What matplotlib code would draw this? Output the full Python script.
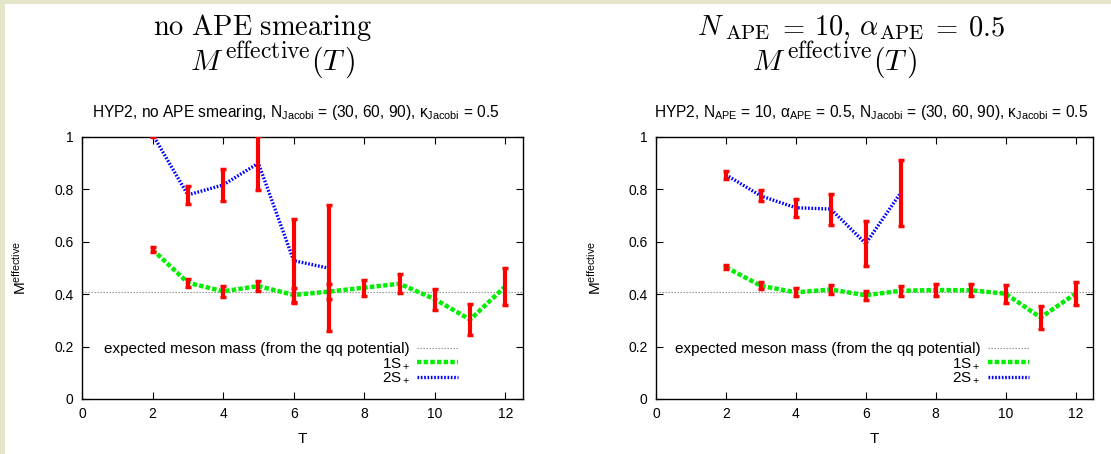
import numpy as np
import matplotlib
matplotlib.use("Agg")
import matplotlib.pyplot as plt
from matplotlib.patches import Rectangle

plt.rcParams['font.family'] = ['Liberation Sans', 'DejaVu Sans']
plt.rcParams['mathtext.fontset'] = 'custom'
plt.rcParams['mathtext.rm'] = 'Liberation Sans'
plt.rcParams['mathtext.it'] = 'Liberation Sans:italic'
plt.rcParams['mathtext.bf'] = 'Liberation Sans:bold'

# time slices
T = [2, 3, 4, 5, 6, 7, 8, 9, 10, 11, 12]
T2 = [2, 3, 4, 5, 6, 7]
m_expected = 0.41

# no APE smearing
s1_noape = [0.570, 0.444, 0.411, 0.431, 0.397, 0.410, 0.425, 0.440, 0.381, 0.303, 0.430]
e1_noape = [0.010, 0.015, 0.020, 0.018, 0.028, 0.030, 0.030, 0.036, 0.040, 0.058, 0.070]
s2_noape = [1.010, 0.779, 0.817, 0.900, 0.528, 0.499]
e2_noape = [0.010, 0.033, 0.062, 0.103, 0.160, 0.240]

# N_APE = 10, alpha_APE = 0.5
s1_ape = [0.503, 0.432, 0.407, 0.418, 0.396, 0.413, 0.416, 0.415, 0.402, 0.311, 0.402]
e1_ape = [0.008, 0.013, 0.015, 0.017, 0.018, 0.020, 0.023, 0.023, 0.035, 0.045, 0.045]
s2_ape = [0.856, 0.775, 0.730, 0.725, 0.593, 0.787]
e2_ape = [0.015, 0.021, 0.035, 0.059, 0.086, 0.126]

W, H = 1111, 454
fig = plt.figure(figsize=(W / 100, H / 100), dpi=100)
fig.patch.set_facecolor('#e5e5c9')
fig.patches.append(Rectangle((5 / W, 0), 1, 1 - 4 / H, transform=fig.transFigure,
                             facecolor='white', edgecolor='none', zorder=-10))
renderer = fig.canvas.get_renderer()


def tex_line(pieces, xc, ybase):
    # pieces: (text, fontsize, raise_px, gap_after_px), laid out left to right, centred at xc
    texts = []
    for s, fs, dy, gap in pieces:
        t = fig.text(0, 0, s, fontsize=fs, math_fontfamily='cm', va='baseline', ha='left')
        texts.append((t, dy, gap))
    widths = [t.get_window_extent(renderer).width + gap for t, _, gap in texts]
    x = xc - sum(widths) / 2
    for (t, dy, gap), w in zip(texts, widths):
        t.set_position((x / W, (H - ybase + dy) / H))
        x += w


FS = 20.5
SUB = 15.0
SUP = 17.0
sup_eff = [(r'$M$', FS + 1, 0, 1), (r'$\mathrm{effective}$', SUP, 12, 1),
           (r'$(T\,)$', FS + 1, 0, 0)]

panels = [
    dict(x0=82, x1=523, s1=s1_noape, e1=e1_noape, s2=s2_noape, e2=e2_noape,
         t1=[(r'$\mathrm{no\ APE\ smearing}$', FS, 0, 0)], t1x=263, t2x=273,
         sub=r'HYP2, no APE smearing, N$_{\mathrm{Jacobi}}$ = (30, 60, 90), κ$_{\mathrm{Jacobi}}$ = 0.5',
         subx=296, ylx=20),
    dict(x0=656, x1=1093, s1=s1_ape, e1=e1_ape, s2=s2_ape, e2=e2_ape,
         t1=[(r'$N$', FS, 0, 1), (r'$\mathrm{APE}$', SUB, -4, 7), (r'$=$', FS, 0, 9),
             (r'$10,$', FS, 0, 8), (r'$\alpha$', FS, 0, 1), (r'$\mathrm{APE}$', SUB, -4, 7),
             (r'$=$', FS, 0, 9), (r'$0.5$', FS, 0, 0)],
         t1x=851, t2x=835,
         sub=r'HYP2, N$_{\mathrm{APE}}$ = 10, α$_{\mathrm{APE}}$ = 0.5, N$_{\mathrm{Jacobi}}$ = (30, 60, 90), κ$_{\mathrm{Jacobi}}$ = 0.5',
         subx=871, ylx=595),
]

for p in panels:
    ax = fig.add_axes([p['x0'] / W, (H - 399) / H, (p['x1'] - p['x0']) / W, 262 / H])
    ax.set_xlim(0, 12.5)
    ax.set_ylim(0, 1)
    ax.set_xticks(range(0, 13, 2))
    ax.set_yticks([0, 0.2, 0.4, 0.6, 0.8, 1.0])
    ax.set_yticklabels(['0', '0.2', '0.4', '0.6', '0.8', '1'])
    ax.tick_params(direction='in', top=True, right=True, length=5, width=0.8,
                   labelsize=10, pad=6)
    for sp in ax.spines.values():
        sp.set_linewidth(1.0)

    ax.axhline(m_expected, color='#888888', lw=0.8, dashes=(1.2, 1.5),
               label='expected meson mass (from the qq potential)')
    ax.plot(T, p['s1'], color='#00ee00', lw=3.2, dashes=(1.0, 0.5), label=r'1S$_+$')
    ax.plot(T2, p['s2'], color='#0000ff', lw=2.4, dashes=(0.5, 0.5), label=r'2S$_+$')
    ax.errorbar(T, p['s1'], yerr=p['e1'], fmt='none', ecolor='#ff0000',
                elinewidth=3, capsize=2.5, capthick=2.5, zorder=5)
    ax.errorbar(T2, p['s2'], yerr=p['e2'], fmt='none', ecolor='#ff0000',
                elinewidth=3, capsize=2.5, capthick=2.5, zorder=5)

    leg = ax.legend(loc='lower right', bbox_to_anchor=(0.853, 0.052), frameon=False,
                    markerfirst=False, alignment='right', fontsize=11,
                    handlelength=2.7, handletextpad=0.45, labelspacing=0.02,
                    borderpad=0, borderaxespad=0)
    for txt in leg.get_texts():
        txt.set_ha('right')

    ax.set_xlabel('T', fontsize=11, labelpad=8)
    fig.text(p['ylx'] / W, (H - 268) / H, r'M$^{\mathrm{effective}}$', rotation=90,
             ha='center', va='center', fontsize=11)

    tex_line(p['t1'], p['t1x'], 35)
    tex_line(sup_eff, p['t2x'], 70)
    fig.text(p['subx'] / W, (H - 113) / H, p['sub'], ha='center', va='center',
             fontsize=11.2)

fig.savefig('out.png', dpi=100, facecolor=fig.get_facecolor())
